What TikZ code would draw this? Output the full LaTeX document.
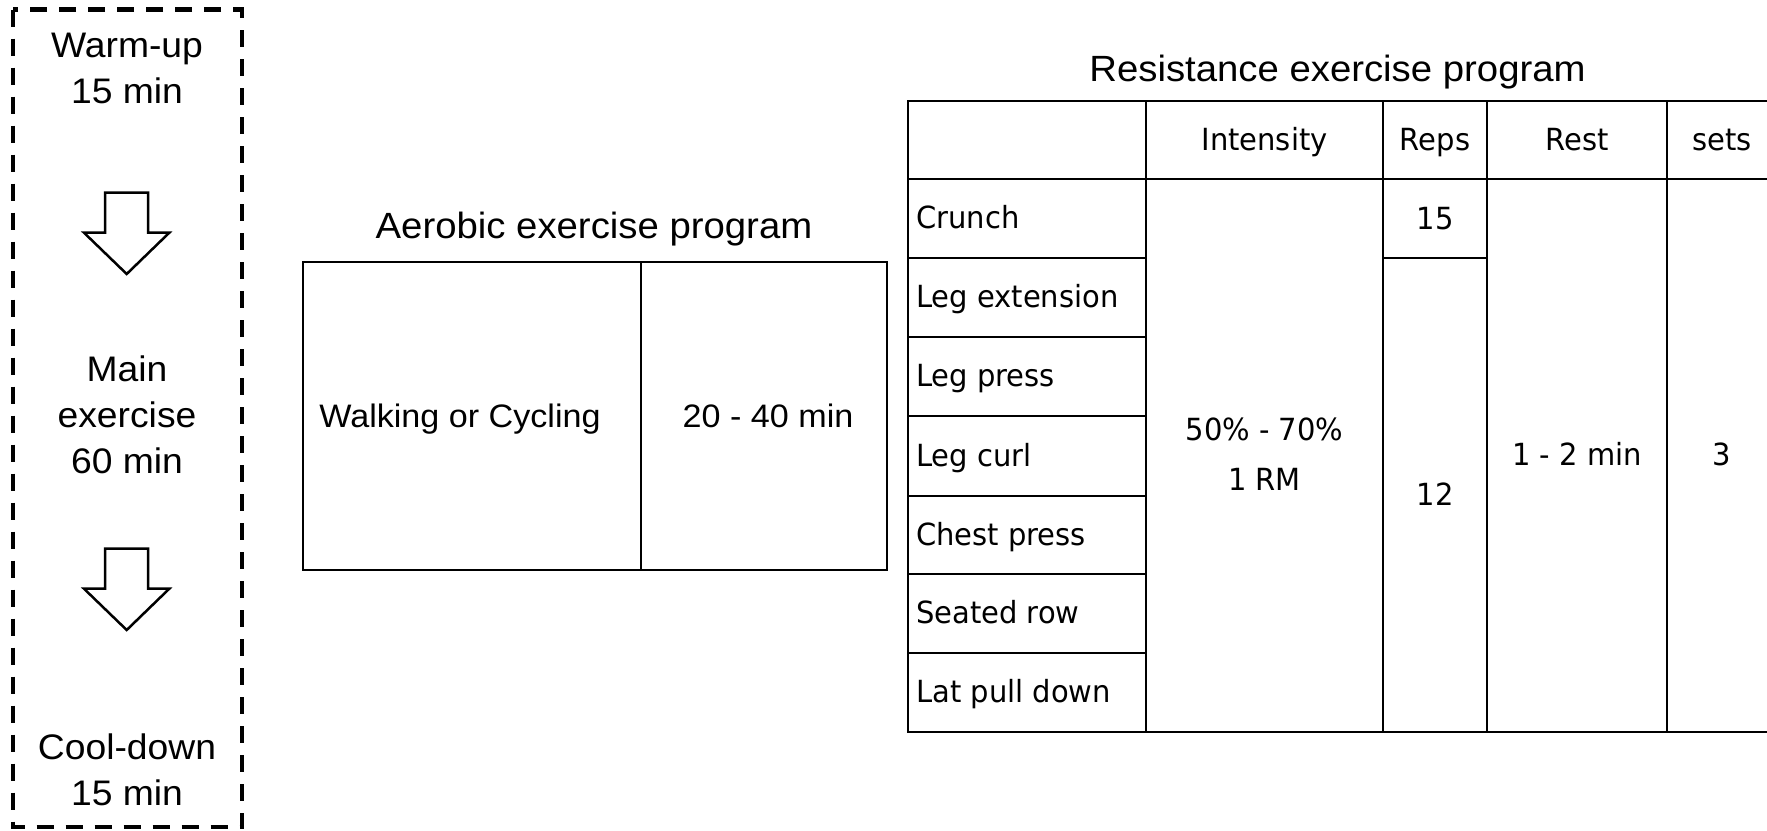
\documentclass[tikz,border=0pt]{standalone}
\usepackage{fontspec}
\newfontfamily\arialf{Liberation Sans}[FakeStretch=1.05]
\newfontfamily\tahf{DejaVu Sans}[FakeStretch=0.95]
\begin{document}
\begin{tikzpicture}[x=1pt,y=-1pt,
  lefttxt/.style={font=\arialf\fontsize{35.5}{46}\selectfont, align=center, inner sep=0pt},
  aerotitle/.style={font=\arialf\fontsize{36.5}{42}\selectfont, inner sep=0pt, anchor=base},
  aerotxt/.style={font=\arialf\fontsize{32.5}{38}\selectfont, inner sep=0pt, anchor=base},
  tabtitle/.style={font=\arialf\fontsize{36.5}{42}\selectfont, inner sep=0pt, anchor=base},
  tabtxt/.style={font=\tahf\fontsize{30.5}{50}\selectfont, inner sep=0pt, anchor=base, align=center},
  rowlbl/.style={font=\tahf\fontsize{30.5}{50}\selectfont, inner sep=0pt, anchor=base west},
  gridline/.style={line width=2pt, line cap=rect},
  aerobox/.style={line width=1.6pt},
  blockarr/.style={line width=2.5pt, line join=miter},
  dashbox/.style={line width=4.5pt, dash pattern=on 17pt off 12pt}
]
\useasboundingbox (0,0) rectangle (1767,830);

% ---------- left column ----------
\draw[dashbox] (13,9.5) rectangle (242,827);
\node[lefttxt] (warm) at (127,68) {Warm-up\\15 min};
\node[lefttxt] (main) at (127,415) {Main\\exercise\\60 min};
\node[lefttxt] (cool) at (127,770) {Cool-down\\15 min};
\foreach \dy in {0,356}{
  \draw[blockarr] (105,192.7+\dy) -- (148,192.7+\dy) -- (148,232.7+\dy) -- (169.3,232.7+\dy)
     -- (126.7,274+\dy) -- (84,232.7+\dy) -- (105,232.7+\dy) -- cycle;
}

% ---------- aerobic ----------
\node[aerotitle] (aerot) at (594,238) {Aerobic exercise program};
\draw[aerobox] (303,262) rectangle (887,570);
\draw[line width=1.2pt] (641,262) -- (641,570);
\node[aerotxt] (walk) at (460,427) {Walking or Cycling};
\node[aerotxt] (aerotime) at (768,427) {20 - 40 min};

% ---------- resistance table ----------
\node[tabtitle] (rest) at (1337.5,81) {Resistance exercise program};
\draw[gridline] (908,101) -- (1767,101);
\draw[gridline] (908,179) -- (1767,179);
\draw[gridline] (908,732) -- (1767,732);
\foreach \yy in {258,337,416,496,574,653}{
  \draw[gridline] (908,\yy) -- (1146,\yy);
}
\draw[gridline] (1383,258) -- (1487,258);
\foreach \xx in {908,1146,1383,1487,1667}{
  \draw[gridline] (\xx,101) -- (\xx,732);
}
% header
\node[tabtxt] (hint) at (1264.5,150) {Intensity};
\node[tabtxt] (hreps) at (1435,150) {Reps};
\node[tabtxt] (hrest) at (1577,150) {Rest};
\node[tabtxt] (hsets) at (1722,150) {sets};
% row labels
\node[rowlbl] (r1) at (916,228.5) {Crunch};
\node[rowlbl] (r2) at (916,307.5) {Leg extension};
\node[rowlbl] (r3) at (916,386.5) {Leg press};
\node[rowlbl] (r4) at (916,466) {Leg curl};
\node[rowlbl] (r5) at (916,545) {Chest press};
\node[rowlbl] (r6) at (916,623.5) {Seated row};
\node[rowlbl] (r7) at (916,702.5) {Lat pull down};
% values
\node[tabtxt] (v15) at (1435,229) {15};
\node[tabtxt, anchor=center] (vint) at (1264.5,454) {50\% - 70\%\\1 RM};
\node[tabtxt] (v12) at (1435,505) {12};
\node[tabtxt] (vrest) at (1577,465) {1 - 2 min};
\node[tabtxt] (vsets) at (1722,465) {3};
\end{tikzpicture}
\end{document}
